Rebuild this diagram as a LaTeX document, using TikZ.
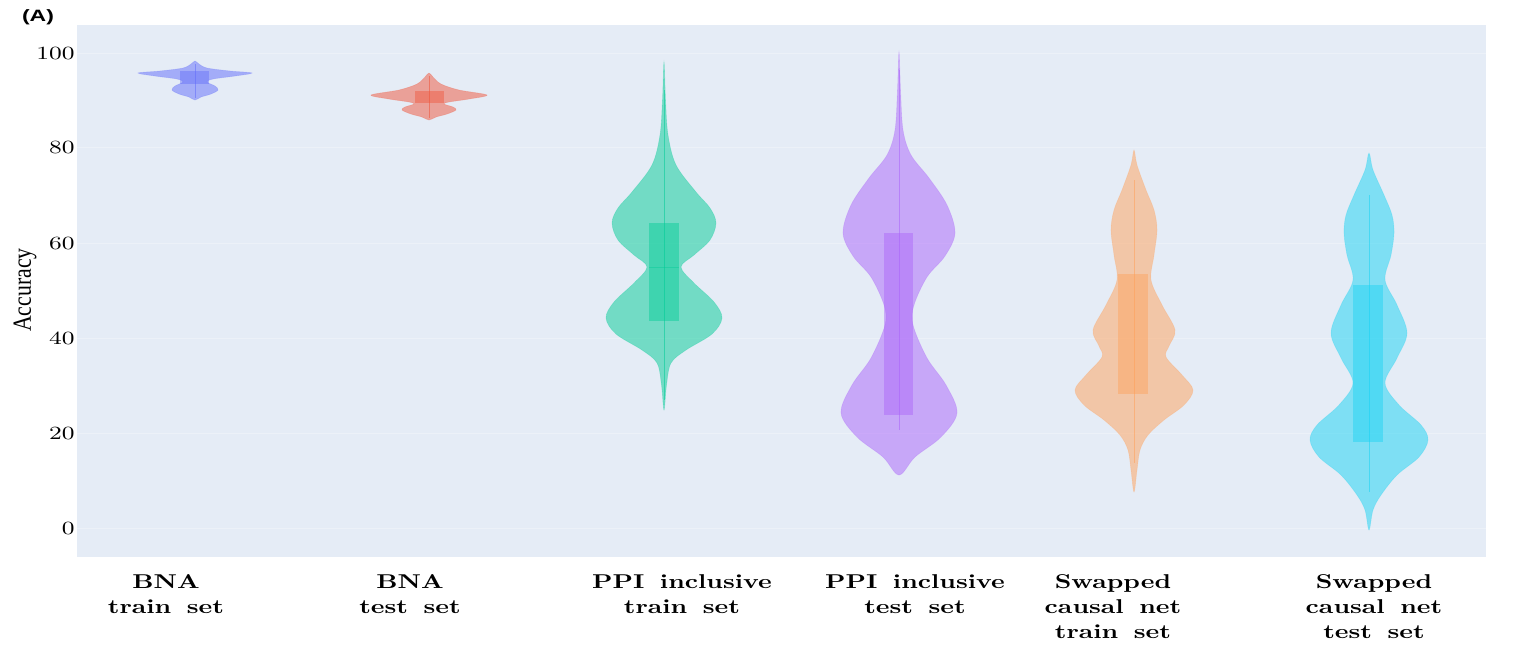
\documentclass[tikz,border=0pt]{standalone}
\usepackage{fontspec}
\newfontfamily\lsans{Liberation Sans}
\newfontfamily\lserif{Liberation Serif}
\definecolor{bgc}{HTML}{E5ECF6}
\definecolor{cblue}{HTML}{636EFA}
\definecolor{cred}{HTML}{EF553B}
\definecolor{cgreen}{HTML}{00CC96}
\definecolor{cpurple}{HTML}{AB63FA}
\definecolor{corange}{HTML}{FFA15A}
\definecolor{ccyan}{HTML}{19D3F3}
\tikzset{
  violin/.style={fill=#1, fill opacity=0.5, draw=#1, draw opacity=0.25, line width=0.3pt},
  vbox/.style={fill=#1, fill opacity=0.45, draw=none},
  whisk/.style={draw=#1, draw opacity=0.55, line width=0.4pt},
  grid line/.style={draw=white, line width=0.5pt, opacity=0.3},
  ticklab/.style={anchor=east, inner sep=0pt, font=\fontsize{9.3}{9.3}\selectfont},
  catlab/.style={anchor=base, inner sep=0pt, font=\fontsize{10}{12.5}\selectfont\bfseries}
}
\newcommand{\xs}[1]{\scalebox{1.33}[1]{#1}}
\newcommand{\xc}[1]{\scalebox{1.3}[1]{#1}}
\newcommand{\catt}[2]{\xc{\spaceskip=0.6em\begin{tabular}[t]{@{}c@{}}#1\\#2\end{tabular}}}
\newcommand{\cattt}[3]{\xc{\spaceskip=0.6em\begin{tabular}[t]{@{}c@{}}#1\\#2\\#3\end{tabular}}}
\begin{document}
\begin{tikzpicture}[x=0.5pt,y=-0.5pt]
\useasboundingbox (0,0) rectangle (1532,645);
\fill[white] (0,0) rectangle (1532,645);
\fill[bgc] (77,25) rectangle (1486,557);
% grid lines
\foreach \yy in {53,147,243,338,433,528} {
  \draw[grid line] (77,\yy) -- (1486,\yy);
}
% tick labels
\node[ticklab] (t100) at (75,53) {\xs{100}};
\node[ticklab] (t80) at (75,147) {\xs{80}};
\node[ticklab] (t60) at (75,243) {\xs{60}};
\node[ticklab] (t40) at (75,338) {\xs{40}};
\node[ticklab] (t20) at (75,433) {\xs{20}};
\node[ticklab] (t0) at (75,528) {\xs{0}};
% axis title
\node[inner sep=0pt] (ylab) at (25,290) {\scalebox{1.2}[1]{\rotatebox{90}{\lserif\fontsize{10.9}{11}\selectfont Accuracy}}};
% panel tag
\node[inner sep=0pt] (tag) at (38,17) {\scalebox{1.4}[1]{\lsans\bfseries\fontsize{8.2}{8.5}\selectfont (A)}};

% ---- violin 1: BNA train
\begin{scope}[shift={(195,0)}]
\path[violin=cblue] plot[smooth cycle, tension=0.55] coordinates {
 (0,61) (4,64) (12,68) (35,71) (57,73) (40,76) (18,79) (12,82) (20,86) (23,90) (16,94) (6,97) (0,100)
 (-6,97) (-16,94) (-23,90) (-20,86) (-12,82) (-18,79) (-40,76) (-57,73) (-35,71) (-12,68) (-4,64)};
\draw[whisk=cblue] (0,64) -- (0,98);
\fill[vbox=cblue] (-15,71) rectangle (14,84);
\end{scope}
% ---- violin 2: BNA test
\begin{scope}[shift={(429,0)}]
\path[violin=cred] plot[smooth cycle, tension=0.55] coordinates {
 (0,73) (4,77) (12,84) (30,90) (58,95) (40,99) (20,102) (15,104) (24,107) (27,110) (18,114) (7,117) (0,120)
 (-7,117) (-18,114) (-27,110) (-24,107) (-15,104) (-20,102) (-40,99) (-58,95) (-30,90) (-12,84) (-4,77)};
\draw[whisk=cred] (0,76) -- (0,118);
\fill[vbox=cred] (-14,91) rectangle (15,103);
\end{scope}
% ---- violin 3: PPI train
\begin{scope}[shift={(664,0)}]
\path[violin=cgreen] plot[smooth cycle, tension=0.55] coordinates {
 (0,62) (1.5,100) (4,135) (12,165) (32,192) (46,208) (52,223) (46,240) (30,255) (17,267) (30,283) (50,302) (58,318) (48,334) (22,350) (7,363) (2.5,385) (0,410)
 (-2.5,385) (-7,363) (-22,350) (-48,334) (-58,318) (-50,302) (-30,283) (-17,267) (-30,255) (-46,240) (-52,223) (-46,208) (-32,192) (-12,165) (-4,135) (-1.5,100)};
\draw[whisk=cgreen] (0,90) -- (0,400);
\fill[vbox=cgreen] (-15,223) rectangle (15,321);
\draw[draw=cgreen, draw opacity=0.4, line width=0.4pt] (-15,267) -- (15,267);
\end{scope}
% ---- violin 4: PPI test
\begin{scope}[shift={(899,0)}]
\path[violin=cpurple] plot[smooth cycle, tension=0.55] coordinates {
 (0,52) (1.5,90) (4,130) (12,155) (30,178) (48,205) (56,233) (46,256) (28,277) (15,305) (14,325) (28,358) (47,385) (58,413) (42,437) (16,457) (0,475)
 (-16,457) (-42,437) (-58,413) (-47,385) (-28,358) (-14,325) (-15,305) (-28,277) (-46,256) (-56,233) (-48,205) (-30,178) (-12,155) (-4,130) (-1.5,90)};
\draw[whisk=cpurple] (0,70) -- (0,430);
\fill[vbox=cpurple] (-15,233) rectangle (14,415);
\end{scope}
% ---- violin 5: Swapped train
\begin{scope}[shift={(1134,0)}]
\path[violin=corange] plot[smooth cycle, tension=0.55] coordinates {
 (0,150) (3,165) (12,190) (20,210) (23,230) (20,255) (17,280) (28,305) (41,330) (35,346) (32,357) (48,375) (59,390) (50,405) (30,420) (14,435) (6,450) (3,470) (0,492)
 (-3,470) (-6,450) (-14,435) (-30,420) (-50,405) (-59,390) (-48,375) (-32,357) (-35,346) (-41,330) (-28,305) (-17,280) (-20,255) (-23,230) (-20,210) (-12,190) (-3,165)};
\draw[whisk=corange] (0,180) -- (0,463);
\fill[vbox=corange] (-16,274) rectangle (14,394);
\end{scope}
% ---- violin 6: Swapped test
\begin{scope}[shift={(1369,0)}]
\path[violin=ccyan] plot[smooth cycle, tension=0.55] coordinates {
 (0,153) (4,170) (15,195) (23,215) (25,233) (22,255) (16,280) (28,305) (38,333) (28,358) (16,383) (30,405) (52,425) (59,440) (50,457) (28,475) (12,495) (4,510) (0,530)
 (-4,510) (-12,495) (-28,475) (-50,457) (-59,440) (-52,425) (-30,405) (-16,383) (-28,358) (-38,333) (-28,305) (-16,280) (-22,255) (-25,233) (-23,215) (-15,195) (-4,170)};
\draw[whisk=ccyan] (0,195) -- (0,492);
\fill[vbox=ccyan] (-16,285) rectangle (14,442);
\end{scope}

% category labels
\node[catlab] (c1) at (166,588) {\catt{BNA}{train set}};
\node[catlab] (c2) at (410,588) {\catt{BNA}{test set}};
\node[catlab] (c3) at (682,588) {\catt{PPI inclusive}{train set}};
\node[catlab] (c4) at (915,588) {\catt{PPI inclusive}{test set}};
\node[catlab] (c5) at (1113,588) {\cattt{Swapped}{causal net}{train set}};
\node[catlab] (c6) at (1374,588) {\cattt{Swapped}{causal net}{test set}};
\end{tikzpicture}
\end{document}
